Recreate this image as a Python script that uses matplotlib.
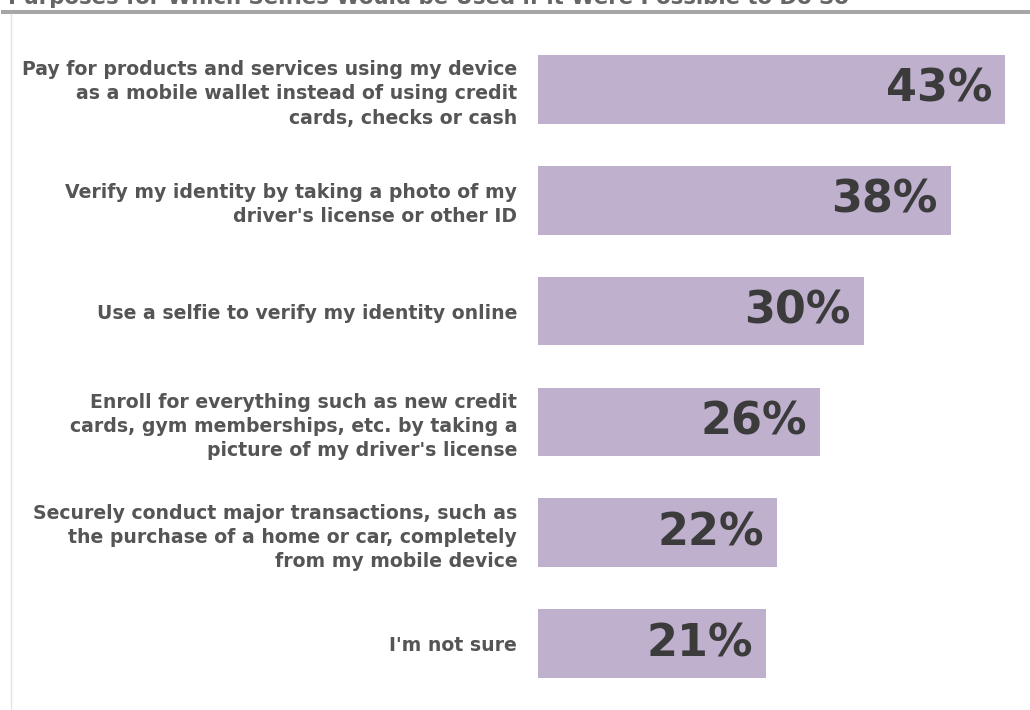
import matplotlib.pyplot as plt
from matplotlib.lines import Line2D

# Survey answers, top to bottom
purposes = [
    "Pay for products and services using my device\nas a mobile wallet instead of using credit\ncards, checks or cash",
    "Verify my identity by taking a photo of my\ndriver's license or other ID",
    "Use a selfie to verify my identity online",
    "Enroll for everything such as new credit\ncards, gym memberships, etc. by taking a\npicture of my driver's license",
    "Securely conduct major transactions, such as\nthe purchase of a home or car, completely\nfrom my mobile device",
    "I'm not sure",
]
shares = [43, 38, 30, 26, 22, 21]
title = "Purposes for Which Selfies Would be Used if it Were Possible to Do So"

bar_color = "#bfb0ce"
label_color = "#555555"
value_color = "#3b3b3b"

fig = plt.figure(figsize=(10.3, 7.1), dpi=100)
ax = fig.add_axes([538 / 1030, 1 - 699 / 710, 492 / 1030, 665 / 710])

ypos = list(range(len(purposes)))
ax.barh(ypos, shares, height=0.62, color=bar_color)
ax.set_xlim(0, 492 / 10.86)
ax.set_ylim(len(purposes) - 0.5, -0.5)

ax.set_yticks(ypos)
ax.set_yticklabels(purposes, fontsize=13.6, fontweight="bold", color=label_color,
                   linespacing=1.34)
ax.tick_params(axis="y", length=0, pad=15)
ax.set_xticks([])
for side in ax.spines.values():
    side.set_visible(False)

# percentage inside the right end of each bar
for y, v in zip(ypos, shares):
    ax.text(v - 1.2, y, f"{v}%", ha="right", va="center", fontsize=32,
            fontweight="bold", color=value_color)

# header text sits mostly above the top edge
fig.text(8 / 1030, 1 - 4 / 710, title, ha="left", va="baseline", fontsize=15.3,
         fontweight="bold", color="#666666")
fig.add_artist(Line2D([3 / 1030, 1], [1 - 11.5 / 710] * 2, transform=fig.transFigure,
                      color="#a6a6a6", lw=2.9))
fig.add_artist(Line2D([10.5 / 1030] * 2, [0, 1 - 14 / 710], transform=fig.transFigure,
                      color="#e3e3e3", lw=1))

fig.savefig("out.png", dpi=100)
